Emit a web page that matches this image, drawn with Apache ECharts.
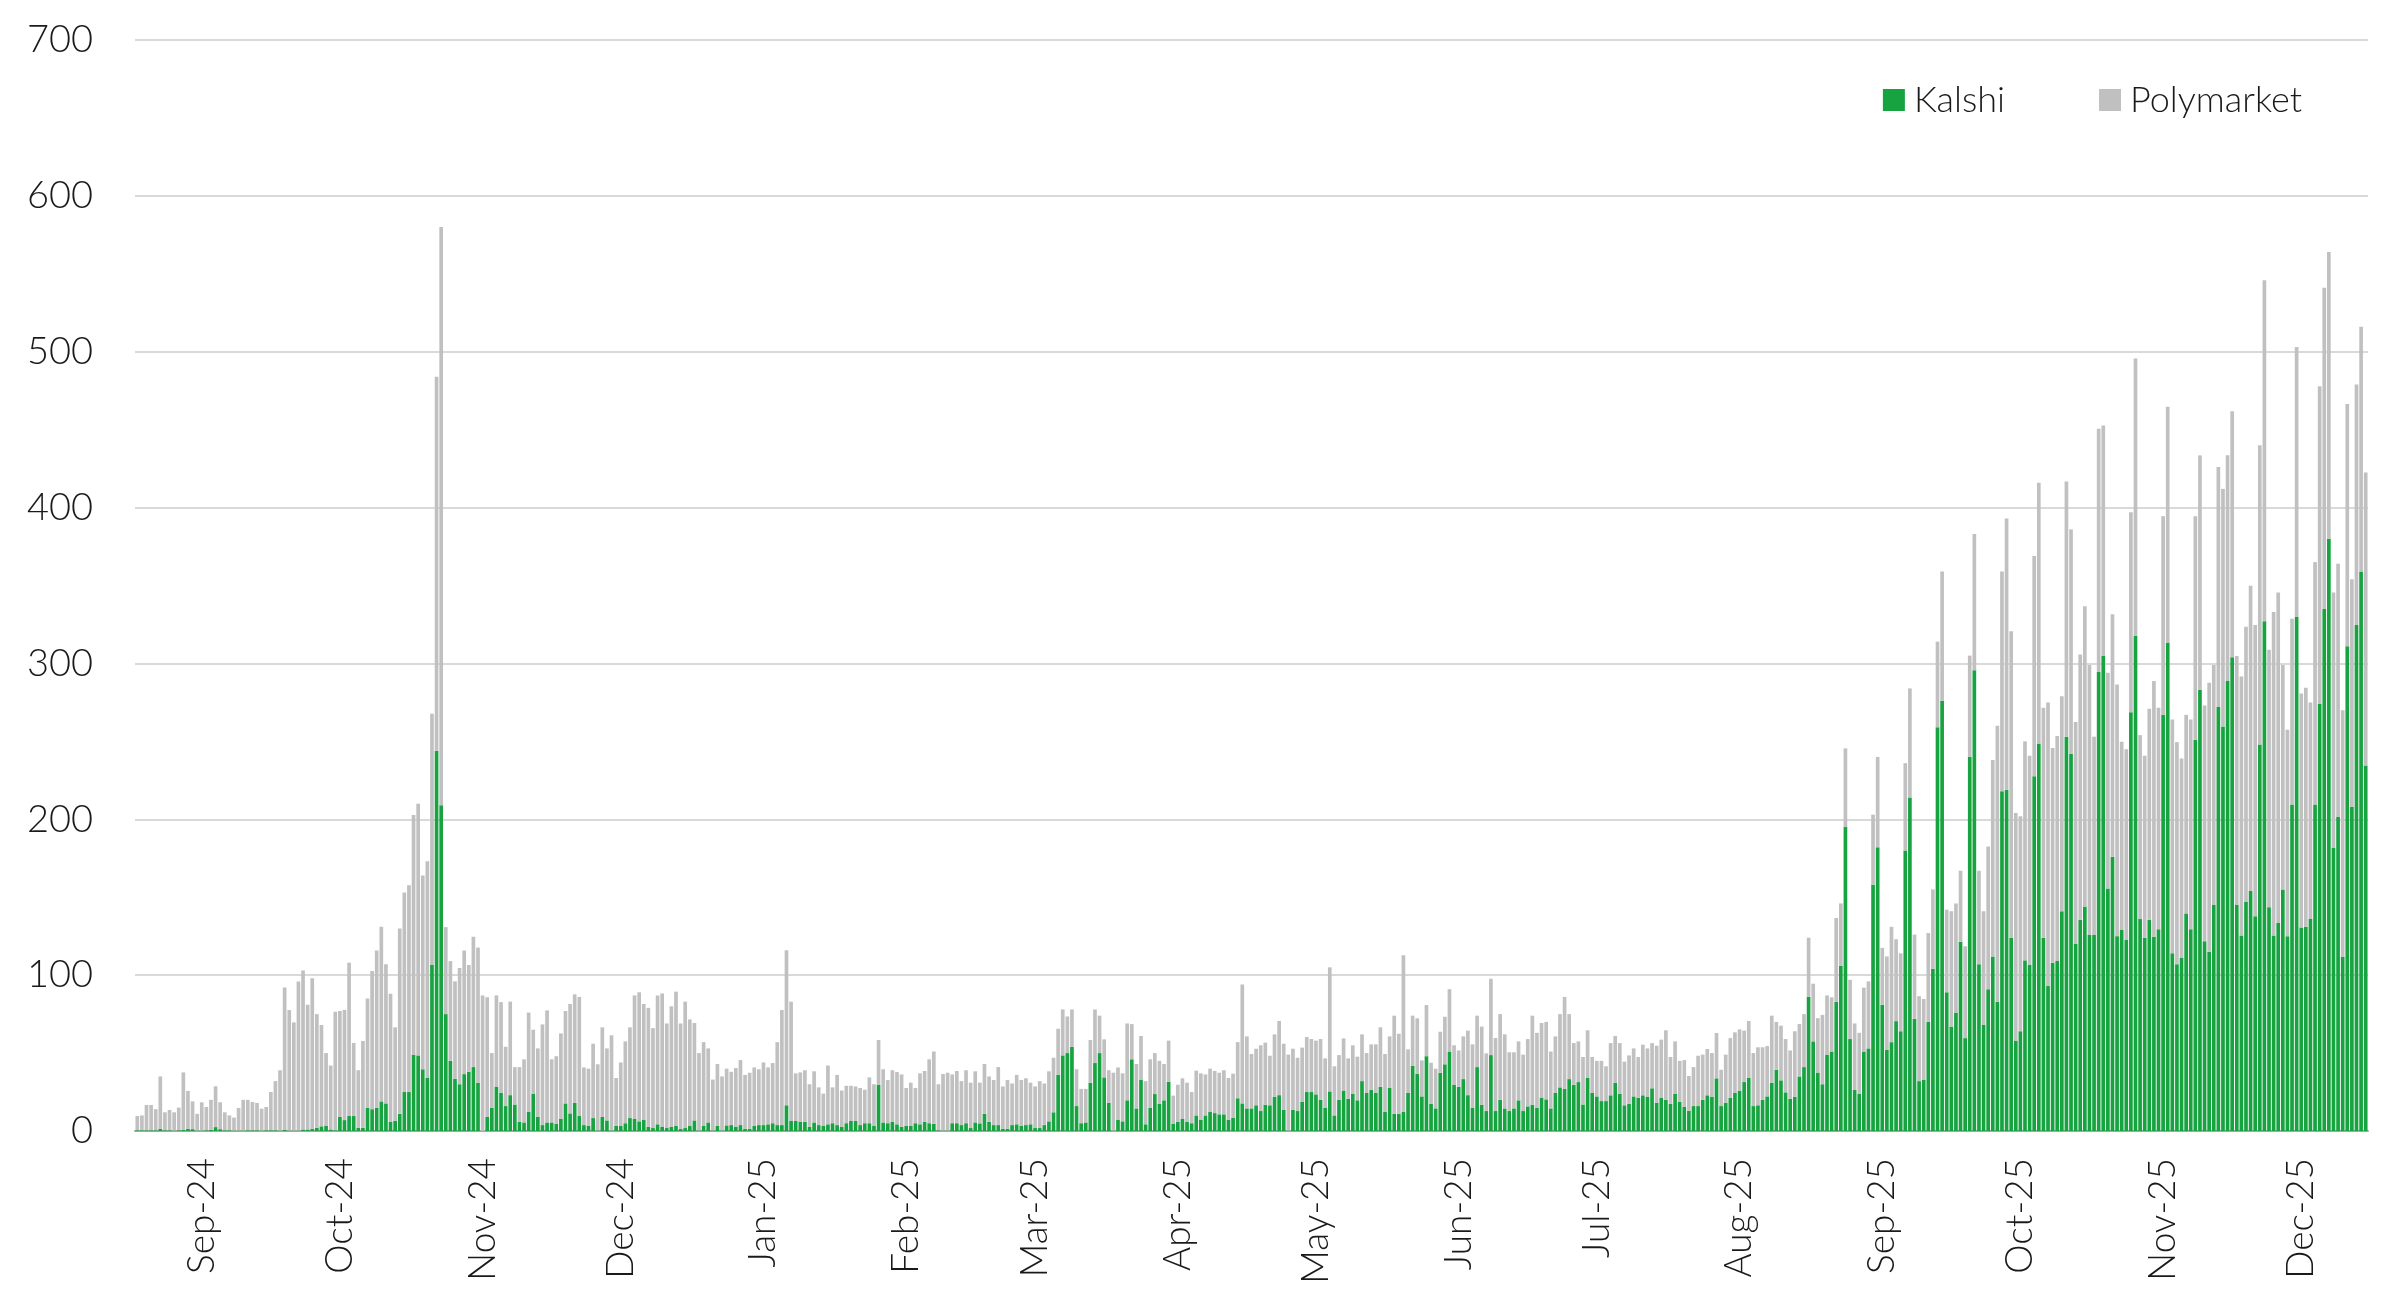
<!DOCTYPE html>
<html>
<head>
<meta charset="utf-8">
<script src="https://cdn.jsdelivr.net/npm/echarts@6/dist/echarts.min.js"></script>
<style>
html,body{margin:0;padding:0;background:#fff;}
#chart{width:2403px;height:1299px;}
</style>
</head>
<body>
<div id="chart"></div>
<script>
// Daily values, one per day starting at startDate
const startDate = '2024-08-18';
const seriesNames = ['Kalshi', 'Polymarket'];
const monthNames = ['Jan','Feb','Mar','Apr','May','Jun','Jul','Aug','Sep','Oct','Nov','Dec'];
const yTicks = [0, 100, 200, 300, 400, 500, 600, 700];

const kalshi = [
  0.5,0.5,0.5,0.5,0.5,1.5,0.5,0.5,0.3,0.5, 0.7,1.5,1.2,0.3,0.3,0.5,0.7,2.5,1.2,0.5, 0.5,0.3,0.3,0.3,0.5,0.5,0.5,0.3,0.5,0.5, 0.5,0.3,0.7,0.3,0.3,0.3,1,1,1.5,2, 3,3.5,1,
  0.5,9,7,9.6,9.6,2,2,15,14,15, 19,17.7,5.8,6.5,11,25,25,49,48.5,39.6, 34,106.5,244,209,75,45,33.5,30,36.5,38, 41,31,0,9,15,28.5,24.6,16,23,17,
  6,5.5,12.4,24,9,3.8,5.5,5.5,4.5,7.7, 17.7,11.3,18,9.6,3.8,3.2,8.3,0.4,9,6.8, 0.4,3.2,3.2,5,8.3,7.7,6.2,7.3,2.6,1.9, 4.3,2.6,1.9,2.6,3.2,1.5,1.9,3.2,6.8,0.4, 3.2,5.5,0.4,3.2,0.4,3.6,
  3.8,2.6,3.8,1.5,1.5,3.2,3.8,3.8,4.3,5, 3.8,3.8,16.5,6.4,6.4,6,6,2.6,5.5,3.8, 3.2,4.3,5,3.8,2.6,5,6.4,6.4,3.8,5, 5,3.2,29.5,5.5,5,6,4.3,2.6,3.2,3.2, 5,4.3,6,5,4.7,0.5,
  0.3,0.3,5,5,3.8,5,1.9,5.5,4.9,11, 6,3.8,3.8,1.5,1.5,3.8,4.3,3.2,3.8,4.3, 1.9,1.9,3.8,6.2,12,36,48.5,50,54,16, 5,5.5,31,43.6,50,34.4,18,0.3,7.3,6.2, 19.7,46,14.5,33,4.3,15,
  23.7,17.5,19.7,31.6,4.5,6,7.7,6,5,10, 7.3,10,12.4,11.5,10.7,10.7,7.3,8.6,21,17.7, 14.5,14.5,16.5,12.8,16.9,16.5,22,23,13.5,0.3, 13.5,12.8,18.6,25,25,23.5,20,15,25.4,10, 20,26,20.7,24,19.7,
  32,24.4,26.5,24.4,28.4,12.4,27.8,11,11,12.4, 24.4,41.7,36.6,22.2,48,17.5,14.5,37.4,42.8,51, 29.5,28.4,33.3,23,15,41,16.9,12.8,48.7,12.8, 20,14.5,12.8,14.5,19.7,12.8,15.8,16.9,15,21.4, 20.3,14.5,24.4,28,27,33.3,
  29.7,31.4,17,34,24.4,22.2,19.2,19.2,22.9,30.8, 24,16.5,17.5,22.2,21.2,22.9,21.8,27.4,18.2,21.2, 20,17.5,24,18.8,15.4,13,16,16,20,22.9, 21.8,33.8,16,18.2,21.2,24.4,25.9,31.4,34,16, 16.5,20,22.2,31,39.3,32.5,24.8,20.7,
  22,35,41,86,57.5,37.5,30,49,51,83, 106,195,59,26.5,24,51,53,158,182,81, 52,57,70.5,64,180,214,72,32,33,70, 104,259,276,89,67,76,121.5,59.6,240,295.6, 107,68,91,112,
  83,218,219,124,57.8,64,109.5,106.5,227.6,248.7, 124,93,108,109,141,253,242,120,135.6,144, 125.8,126,294.5,304.7,155.6,176,125,129,122.5,268.7, 317.8,136,124,135.6,124.7,129.5,267,313.5,114,107, 111,
  139.6,129.5,251,283,121.8,115,145,272,259.6,288.7, 304,145,125.5,147,154,137.8,248,327,143.6,125.5, 133.5,155,125,209.5,329.8,130.5,131,136,209.5,274, 335,380,181.5,201.5,111.6,311,208,324.7,359,234.5
];

const polymarket = [
  9.1,9.5,16.2,16.2,13.5,33.5,11.5,13,11.7,14.5, 36.9,24.2,17.8,10.7,18.1,14.9,19.3,26.2,17.2,11.5, 9.5,8.3,14.5,19.7,19.5,18.1,17.5,14,14.9,24.5, 31.5,38.7,91.3,77.3,69.4,95.7,102,80,96.5,73, 65,46.5,41,
  76,68,70.7,98.4,46.9,37,55.7,70,88.7,100.8, 112,89.3,82.2,60,119,128,132.7,153.7,161.5,124.4, 139,161.2,240,371,55.8,64,62.5,74.6,79.3,68.5, 83.6,86.7,87,76.8,35,58.5,58.1,38,60,24,
  35,40.5,63.6,41,44,64.6,71.9,40.5,43.5,54.9, 59.3,70.2,69.7,76.4,37,36.8,47.7,42.4,57.5,46.2, 61,30.8,40.8,52.5,58.2,79.3,82.8,74.2,76.4,64.1, 82.7,85.7,67.1,77.4,86.2,67.5,81.1,68.4,62.5,49.6, 53.8,47.5,32.6,39.8,34.6,36.4,
  34.2,37.8,41.7,34.5,35.9,37.6,35.8,40.2,36.5,38.6, 53.2,73.8,99.5,76.6,30.6,31.6,33,27.4,32.8,24.2, 20.8,37.7,23,32.2,23.4,24,22.6,22.2,23.8,21.5, 29.4,26.8,28.9,34.1,27.7,33,33.5,33.7,24.4,27.8, 22.6,32.7,32.5,41,46.3,29.5,
  36.3,37.1,31.3,33.5,28.2,34,29.1,32.8,26.1,32, 29,28.9,37.2,27.1,31.2,26.7,31.7,29.5,30,26.7, 26.7,30.1,26.7,32.1,35,29.6,29.5,23.5,24,23.6, 22,21.5,27.4,34.4,24,24.4,21,37.1,33.5,30.8, 49.3,22.6,28.5,28,27.7,31,
  26.3,27.5,23.3,26.4,18.2,23.7,26.1,25,20,28.7, 29.7,26.3,27.6,27,26.7,28.3,26.7,28.2,36,76.3, 46.2,34.9,36.3,42.2,39.8,31.8,40,47.6,42.5,48.7, 39.3,34.2,34.9,35.3,34,34.5,39,31.6,79.6,31.5, 28.7,33.4,25.9,31,28,
  30,25.6,29.1,31.2,38.1,37,32.9,63,51.4,100.3, 28,32.3,35.7,23.1,32.8,26.3,25.5,26.3,30.5,40, 25.5,23.3,27.4,41.4,40.6,33,50.1,37,49,46.9, 55,47.5,37.7,36,37.8,36.2,43.2,57.1,48,47.9, 49.7,36.5,36.3,47,59,41.7,
  26.7,26.1,30.5,30.6,23.1,22.8,25.8,22.3,33.5,30.2, 32.4,28,31,30.8,26.3,32.5,31.2,29,36.5,37.4, 44.6,30,33.5,26.2,30.1,22.3,25,32.3,29,29.7, 28.2,29.1,23.3,30.8,38.4,38.9,39.3,33,36.6,34, 37.2,33.7,32.3,43,30.7,35.1,34.2,31,
  42,33.7,34,38,37,34.9,44.5,38,34.8,53.7, 40,50.5,38,42.5,39,41,43,45,58,36.5, 60,74,52.5,50,56,70,54,54.5,51.7,57, 51,55,83,53,74,70,45.5,58.9,65,87.4, 60,73,91.5,126,
  177,141,174,196.7,146.2,138,140.5,134.2,141.4,167.3, 147.6,182,137.8,144.5,138,163.7,144,142.5,170.2,192.7, 173.2,127,156,148,138.4,155.6,161.5,120.8,122.5,128.3, 177.8,118,116.7,135.4,164,142.1,127.5,151.2,150,142.5, 128,
  127.4,134.5,143.5,150.5,151.2,172.6,154,154,152.4,144.8, 157.8,159.7,166.1,176.6,195.8,186.9,192,218.8,165.1,207.5, 212,144,132.5,119.2,173.2,150.2,153.4,139,155.5,203.8, 206,184,164,162.5,158.4,155.5,146,154.3,157,188
];

// Build category dates (one per day)
const dates = [];
(function(){
  const d0 = new Date(startDate + 'T00:00:00Z');
  for (let i = 0; i < kalshi.length; i++) {
    const d = new Date(d0.getTime() + i * 86400000);
    dates.push(d.toISOString().slice(0, 10));
  }
})();

function isMonthStart(v) { return v.slice(8, 10) === '01'; }
function monthLabel(v) {
  const m = parseInt(v.slice(5, 7), 10) - 1;
  return monthNames[m] + '-' + v.slice(2, 4);
}

const FONT = 'Lato';
const chart = echarts.init(document.getElementById('chart'), null, {renderer: 'canvas'});
chart.setOption({
  backgroundColor: '#ffffff',
  animation: false,
  textStyle: {fontFamily: FONT, fontWeight: 300},
  grid: {left: 135, right: 35, top: 40, bottom: 168, containLabel: false},
  legend: {
    data: seriesNames,
    right: 96,
    top: 77,
    icon: 'rect',
    itemWidth: 22,
    itemHeight: 22,
    itemGap: 94,
    textStyle: {fontFamily: FONT, fontWeight: 300, fontSize: 36, color: '#1a1a1a', padding: [0, 0, 0, 4]}
  },
  xAxis: {
    type: 'category',
    data: dates,
    boundaryGap: true,
    axisLine: {show: true, lineStyle: {color: '#a6a6a6', width: 2}},
    axisTick: {show: false},
    axisLabel: {
      interval: function (idx, v) { return isMonthStart(v); },
      formatter: function (v) { return monthLabel(v); },
      rotate: 90,
      margin: 27,
      fontFamily: FONT,
      fontWeight: 300,
      fontSize: 37,
      color: '#1a1a1a'
    },
    splitLine: {show: false}
  },
  yAxis: {
    type: 'value',
    min: yTicks[0],
    max: yTicks[yTicks.length - 1],
    interval: 100,
    axisLine: {show: false},
    axisTick: {show: false},
    axisLabel: {fontFamily: FONT, fontWeight: 300, fontSize: 38, color: '#1a1a1a', margin: 42},
    splitLine: {lineStyle: {color: '#d9d9d9', width: 2}}
  },
  series: [
    {
      name: seriesNames[0],
      type: 'bar',
      stack: 'total',
      data: kalshi,
      barCategoryGap: '20%',
      itemStyle: {color: '#16a340'}
    },
    {
      name: seriesNames[1],
      type: 'bar',
      stack: 'total',
      data: polymarket,
      barCategoryGap: '20%',
      itemStyle: {color: '#c0c0c0'}
    }
  ]
});
</script>
</body>
</html>
